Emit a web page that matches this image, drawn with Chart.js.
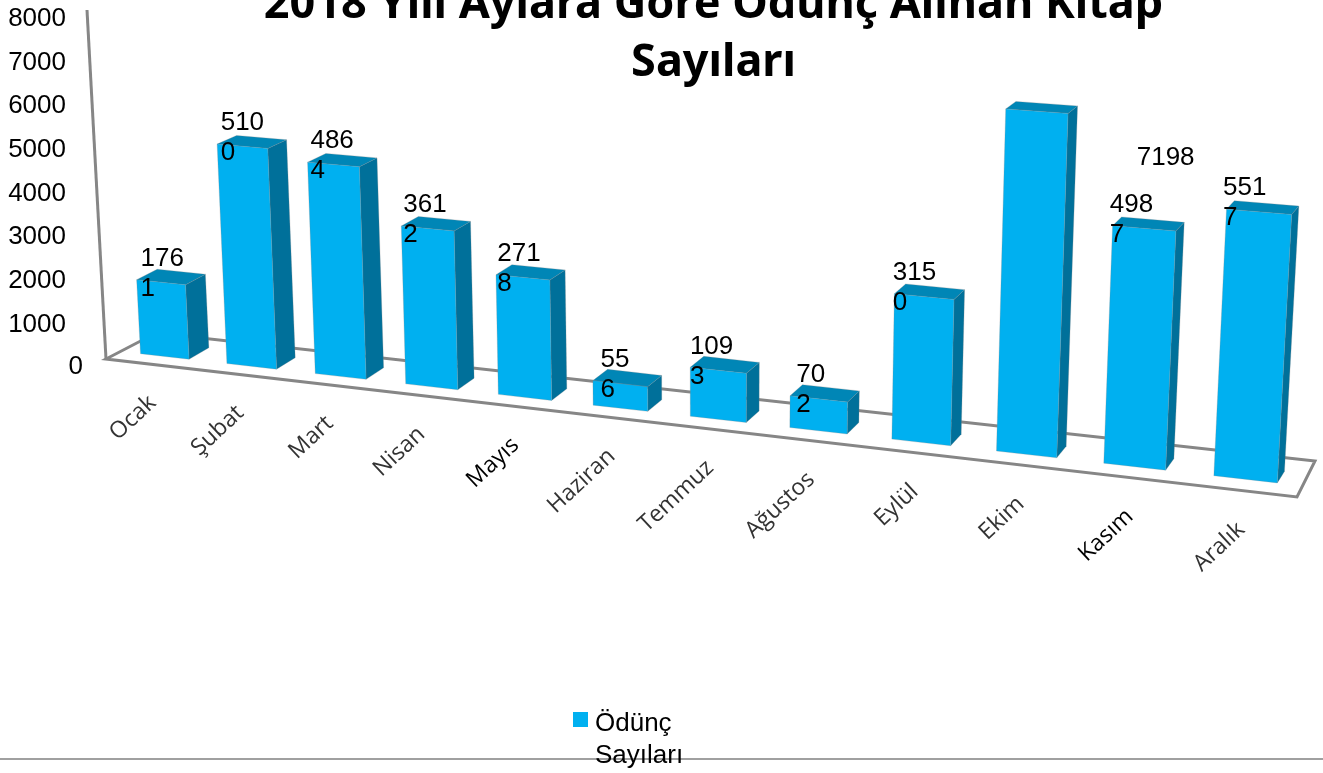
<!DOCTYPE html>
<html lang="tr">
<head>
<meta charset="utf-8">
<title>2018 Yılı Aylara Göre Ödünç Alınan Kitap Sayıları</title>
<script src="https://cdn.jsdelivr.net/npm/chart.js@4/dist/chart.umd.min.js"></script>
<style>
  html, body { margin: 0; padding: 0; background: #fff; overflow: hidden; }
  canvas { display: block; }
</style>
</head>
<body>
<canvas id="chart" width="1323" height="773"></canvas>
<script>
// data
const months = ['Ocak', 'Şubat', 'Mart', 'Nisan', 'Mayıs', 'Haziran', 'Temmuz', 'Ağustos', 'Eylül', 'Ekim', 'Kasım', 'Aralık'];
const loanCounts = [1761, 5100, 4864, 3612, 2718, 556, 1093, 702, 3150, 7198, 4987, 5517];
const valueLabels = [['176', '1'], ['510', '0'], ['486', '4'], ['361', '2'], ['271', '8'], ['55', '6'], ['109', '3'], ['70', '2'], ['315', '0'], ['7198'], ['498', '7'], ['551', '7']];
const titleLines = ['2018 Yılı Aylara Göre Ödünç Alınan Kitap', 'Sayıları'];
const legendLines = ['Ödünç', 'Sayıları'];
const seriesName = 'Ödünç Sayıları';
const darkerMonths = ['Mayıs', 'Kasım'];

// perspective: corners of the plot rectangle on screen (bottom-left, bottom-right, top-right, top-left)
const frontPlane = [[122, 351.6], [1302, 485.7], [1324, 91], [103.4, 8]];
const backPlane = [[142.7, 340.1], [1308.9, 474.2], [1331, 84], [124.4, 1]];

const FRONT = '#00B0F0', SIDE = '#00709A', TOP = '#0086B6', FRAME = '#868686';

function makeProjection(q) {
    const [[x0, y0], [x1, y1], [x2, y2], [x3, y3]] = q;
    const sx = x0 - x1 + x2 - x3, sy = y0 - y1 + y2 - y3;
    const dx1 = x1 - x2, dx2 = x3 - x2, dy1 = y1 - y2, dy2 = y3 - y2;
    const den = dx1 * dy2 - dx2 * dy1;
    const g = (sx * dy2 - dx2 * sy) / den, h = (dx1 * sy - sx * dy1) / den;
    const a = x1 - x0 + g * x1, b = x3 - x0 + h * x3;
    const d = y1 - y0 + g * y1, e = y3 - y0 + h * y3;
    return (u, v) => {
        const w = g * u + h * v + 1;
        return [(a * u + b * v + x0) / w, (d * u + e * v + y0) / w];
    };
}

const projectFront = makeProjection(frontPlane);
const projectBack = makeProjection(backPlane);

function fillPoly(ctx, pts, color) {
    ctx.beginPath();
    pts.forEach((p, i) => i ? ctx.lineTo(p[0], p[1]) : ctx.moveTo(p[0], p[1]));
    ctx.closePath();
    ctx.fillStyle = color;
    ctx.fill();
    ctx.lineWidth = 1;
    ctx.strokeStyle = 'rgba(130,130,130,0.25)';
    ctx.stroke();
}

function line(ctx, a, b, color, width) {
    ctx.beginPath();
    ctx.moveTo(a[0], a[1]);
    ctx.lineTo(b[0], b[1]);
    ctx.strokeStyle = color;
    ctx.lineWidth = width;
    ctx.stroke();
}

const bars3d = {
    id: 'bars3d',
    beforeDatasetsDraw(chart) {
        const ctx = chart.ctx;
        ctx.save();
        // wall and floor frame
        line(ctx, [87, 10], [106, 359], FRAME, 3);
        ctx.beginPath();
        ctx.moveTo(156, 333);
        ctx.lineTo(106, 359);
        ctx.lineTo(1297, 497);
        ctx.lineTo(1315, 461);
        ctx.closePath();
        ctx.strokeStyle = FRAME;
        ctx.lineWidth = 3;
        ctx.stroke();
        // rule at the bottom of the slide
        line(ctx, [0, 759], [1323, 759], '#A0A0A0', 2);
        ctx.restore();
    },
    afterDatasetsDraw(chart) {
        const ctx = chart.ctx;
        const area = chart.chartArea;
        const yScale = chart.scales.y;
        const U = x => (x - area.left) / (area.right - area.left);
        const V = y => (area.bottom - y) / (area.bottom - area.top);
        const meta = chart.getDatasetMeta(0);

        ctx.save();
        meta.data.forEach(bar => {
            const l = U(bar.x - bar.width / 2), r = U(bar.x + bar.width / 2);
            const t = V(bar.y), b = V(bar.base);
            const fbl = projectFront(l, b), fbr = projectFront(r, b), ftr = projectFront(r, t), ftl = projectFront(l, t);
            const bbr = projectBack(r, b), btr = projectBack(r, t), btl = projectBack(l, t);
            fillPoly(ctx, [fbr, bbr, btr, ftr], SIDE);
            fillPoly(ctx, [ftl, ftr, btr, btl], TOP);
            fillPoly(ctx, [fbl, fbr, ftr, ftl], FRONT);
        });

        // value labels: first line centred on the bar, next lines flush with it
        ctx.fillStyle = '#000';
        ctx.font = '26px "Liberation Sans"';
        ctx.textAlign = 'left';
        ctx.textBaseline = 'alphabetic';
        meta.data.forEach((bar, i) => {
            const lines = valueLabels[i];
            const top = projectFront(U(bar.x), V(bar.y));
            let x = top[0] + (243 - top[0]) * 0.014 - ctx.measureText(lines[0]).width / 2;
            let y = top[1] - 16.5;
            if (lines.length === 1) { // the Ekim label was dragged off its bar
                x += 140;
                y += 70;
            }
            lines.forEach((txt, k) => ctx.fillText(txt, x, y + k * 30));
        });

        // month labels along the slanted floor
        ctx.font = '23px "Open Sans"';
        ctx.textAlign = 'right';
        ctx.textBaseline = 'middle';
        meta.data.forEach((bar, i) => {
            const foot = projectFront(U(bar.x), V(bar.base));
            const x = foot[0] - 12 + (foot[0] - 165) / 1080 * 8;
            ctx.save();
            ctx.translate(x, foot[1] + 43 + (foot[0] - 165) / 1080 * 4);
            ctx.rotate(-43 * Math.PI / 180);
            ctx.fillStyle = darkerMonths.includes(months[i]) ? '#000' : '#333';
            ctx.fillText(months[i], 0, 0);
            ctx.restore();
        });

        // zero tick sits further right than the others
        ctx.fillStyle = '#000';
        ctx.font = '26px "Liberation Sans"';
        ctx.textBaseline = 'middle';
        ctx.fillText('0', 83, yScale.getPixelForValue(0) - 1);

        // legend
        ctx.fillStyle = FRONT;
        ctx.fillRect(573, 712, 15, 15);
        ctx.fillStyle = '#000';
        ctx.textAlign = 'left';
        ctx.textBaseline = 'alphabetic';
        legendLines.forEach((txt, k) => ctx.fillText(txt, 595, 731 + k * 32));
        ctx.restore();
    }
};

new Chart(document.getElementById('chart'), {
    type: 'bar',
    plugins: [bars3d],
    data: {
        labels: months,
        datasets: [{
            label: seriesName,
            data: loanCounts,
            backgroundColor: 'transparent',
            barPercentage: 0.565,
            categoryPercentage: 1
        }]
    },
    options: {
        responsive: false,
        animation: false,
        // negative right padding moves the centre of the title to where the reference has it
        layout: { padding: { top: 0, right: -104, bottom: 405, left: 0 } },
        plugins: {
            legend: { display: false },
            tooltip: { enabled: false },
            title: {
                display: true,
                text: titleLines,
                color: '#000',
                font: { family: '"Noto Sans"', size: 45, weight: 'bold', lineHeight: 1.278 },
                padding: { top: -23.3, bottom: -72.7 }
            }
        },
        scales: {
            x: { display: false },
            y: {
                min: 0,
                max: 8000,
                afterFit: s => { s.width = 66; },
                grid: { display: false, drawTicks: false },
                border: { display: false },
                ticks: {
                    stepSize: 1000,
                    padding: 0,
                    color: '#000',
                    font: { family: '"Liberation Sans"', size: 26 },
                    callback: v => v === 0 ? '' : String(v)
                }
            }
        }
    }
});
</script>
</body>
</html>
